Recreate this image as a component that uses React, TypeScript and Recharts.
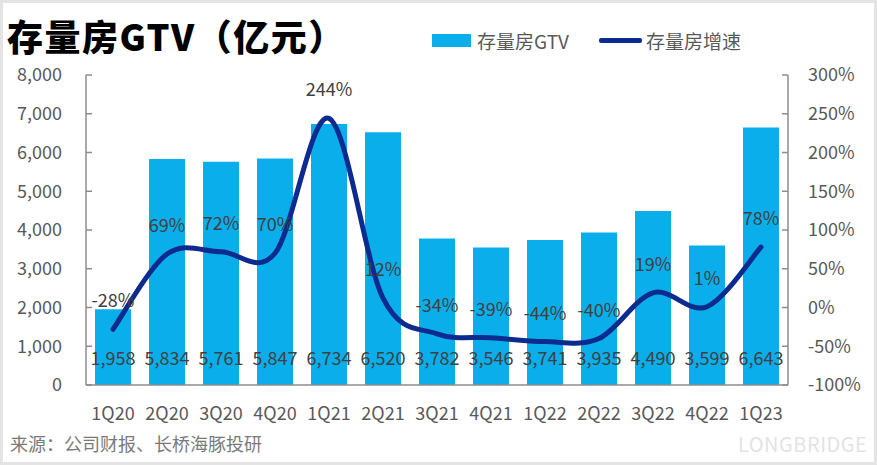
import React from 'react';
import {
  ComposedChart,
  Bar,
  Line,
  XAxis,
  YAxis,
  LabelList,
} from 'recharts';

const quarters = ['1Q20', '2Q20', '3Q20', '4Q20', '1Q21', '2Q21', '3Q21', '4Q21', '1Q22', '2Q22', '3Q22', '4Q22', '1Q23'];
const gtv = [1958, 5834, 5761, 5847, 6734, 6520, 3782, 3546, 3741, 3935, 4490, 3599, 6643];
const growth = [-28, 69, 72, 70, 244, 12, -34, -39, -44, -40, 19, 1, 78];
const leftTicks = [0, 1000, 2000, 3000, 4000, 5000, 6000, 7000, 8000];
const rightTicks = [-100, -50, 0, 50, 100, 150, 200, 250, 300];

const data = quarters.map((q, i) => ({ q, gtv: gtv[i], growth: growth[i] }));

const BAR_COLOR = '#0AAEEB';
const LINE_COLOR = '#0D2A8F';
const AXIS_COLOR = '#8c8c8c';
const TEXT_COLOR = '#595959';
const FONT = "'Noto Sans CJK SC', 'Noto Sans', sans-serif";

// excel style smoothed line (catmull-rom through every point)
const smoothCurve: any = (context: any) => {
  let pts: number[][] = [];
  return {
    areaStart() {},
    areaEnd() {},
    lineStart() {
      pts = [];
    },
    point(x: number, y: number) {
      pts.push([+x, +y]);
    },
    lineEnd() {
      if (!pts.length) return;
      context.moveTo(pts[0][0], pts[0][1]);
      for (let i = 0; i < pts.length - 1; i++) {
        const p0 = pts[Math.max(0, i - 1)];
        const p1 = pts[i];
        const p2 = pts[i + 1];
        const p3 = pts[Math.min(pts.length - 1, i + 2)];
        context.bezierCurveTo(
          p1[0] + (p2[0] - p0[0]) / 6,
          p1[1] + (p2[1] - p0[1]) / 6,
          p2[0] - (p3[0] - p1[0]) / 6,
          p2[1] - (p3[1] - p1[1]) / 6,
          p2[0],
          p2[1]
        );
      }
    },
  };
};

const BarValueLabel = (props: any) => {
  const { x, y, width, height, value } = props;
  return (
    <text
      x={x + width / 2}
      y={y + height - 28}
      textAnchor="middle"
      dominantBaseline="central"
      fontSize={18}
      fill="#404040"
      fontFamily={FONT}
    >
      {Number(value).toLocaleString('en-US')}
    </text>
  );
};

const RateLabel = (props: any) => {
  const { x, y, value } = props;
  return (
    <text
      x={x}
      y={y - 30}
      textAnchor="middle"
      dominantBaseline="central"
      fontSize={18}
      fill="#404040"
      fontFamily={FONT}
    >
      {value}%
    </text>
  );
};

export default function App() {
  return (
    <div style={{ position: 'absolute', left: 0, top: 0, width: 877, height: 465, background: '#fff', fontFamily: FONT }}>
      <div
        style={{
          position: 'absolute',
          left: 7,
          top: 16,
          fontSize: 36,
          lineHeight: '38px',
          fontWeight: 900,
          letterSpacing: 1.5,
          color: '#000',
          whiteSpace: 'nowrap',
        }}
      >
        存量房GTV（亿元）
      </div>
      <div
        style={{
          position: 'absolute',
          left: 432,
          top: 27,
          display: 'flex',
          alignItems: 'center',
          fontSize: 19,
          color: TEXT_COLOR,
          whiteSpace: 'nowrap',
        }}
      >
        <span style={{ display: 'inline-block', width: 39, height: 13, background: BAR_COLOR, marginRight: 6 }} />
        <span>存量房GTV</span>
        <span style={{ display: 'inline-block', width: 43, height: 5, background: LINE_COLOR, marginLeft: 30, marginRight: 4, borderRadius: 2 }} />
        <span>存量房增速</span>
      </div>
      <ComposedChart
        width={877}
        height={465}
        data={data}
        margin={{ top: 75, right: 0, bottom: 40, left: 0 }}
        style={{ position: 'absolute', left: 0, top: 0 }}
      >
        <XAxis
          dataKey="q"
          height={40}
          axisLine={{ stroke: AXIS_COLOR, strokeWidth: 1.5 }}
          tickLine={false}
          tickMargin={16}
          tick={{ fontSize: 18, fill: TEXT_COLOR, fontFamily: FONT }}
          interval={0}
        />
        <YAxis
          yAxisId="left"
          orientation="left"
          width={86}
          domain={[0, 8000]}
          ticks={leftTicks}
          tickFormatter={(v: number) => v.toLocaleString('en-US')}
          axisLine={{ stroke: AXIS_COLOR, strokeWidth: 1.5 }}
          tickLine={{ stroke: AXIS_COLOR, strokeWidth: 1.5 }}
          tickSize={-6}
          tickMargin={30}
          tick={{ fontSize: 18, fill: TEXT_COLOR, fontFamily: FONT }}
        />
        <YAxis
          yAxisId="right"
          orientation="right"
          width={89}
          domain={[-100, 300]}
          ticks={rightTicks}
          tickFormatter={(v: number) => `${v}%`}
          axisLine={{ stroke: AXIS_COLOR, strokeWidth: 1.5 }}
          tickLine={{ stroke: AXIS_COLOR, strokeWidth: 1.5 }}
          tickSize={-6}
          tickMargin={26}
          tick={{ fontSize: 18, fill: TEXT_COLOR, fontFamily: FONT }}
        />
        <Bar yAxisId="left" dataKey="gtv" name="存量房GTV" fill={BAR_COLOR} barSize={36} isAnimationActive={false}>
          <LabelList dataKey="gtv" content={<BarValueLabel />} />
        </Bar>
        <Line
          yAxisId="right"
          dataKey="growth"
          name="存量房增速"
          type={smoothCurve}
          stroke={LINE_COLOR}
          strokeWidth={5}
          strokeLinecap="round"
          dot={false}
          activeDot={false}
          isAnimationActive={false}
        >
          <LabelList dataKey="growth" content={<RateLabel />} />
        </Line>
      </ComposedChart>
      <div style={{ position: 'absolute', left: 10, top: 430, fontSize: 18, color: '#7a7a7a', whiteSpace: 'nowrap' }}>
        来源：公司财报、长桥海豚投研
      </div>
      <div style={{ position: 'absolute', left: 738, top: 429, fontSize: 20, color: '#e3e3e3', letterSpacing: 0.5 }}>
        LONGBRIDGE
      </div>
      <div
        style={{
          position: 'absolute',
          left: 0,
          top: 0,
          width: 877,
          height: 465,
          boxSizing: 'border-box',
          border: '3px solid #e4e4e4',
          pointerEvents: 'none',
        }}
      />
    </div>
  );
}
